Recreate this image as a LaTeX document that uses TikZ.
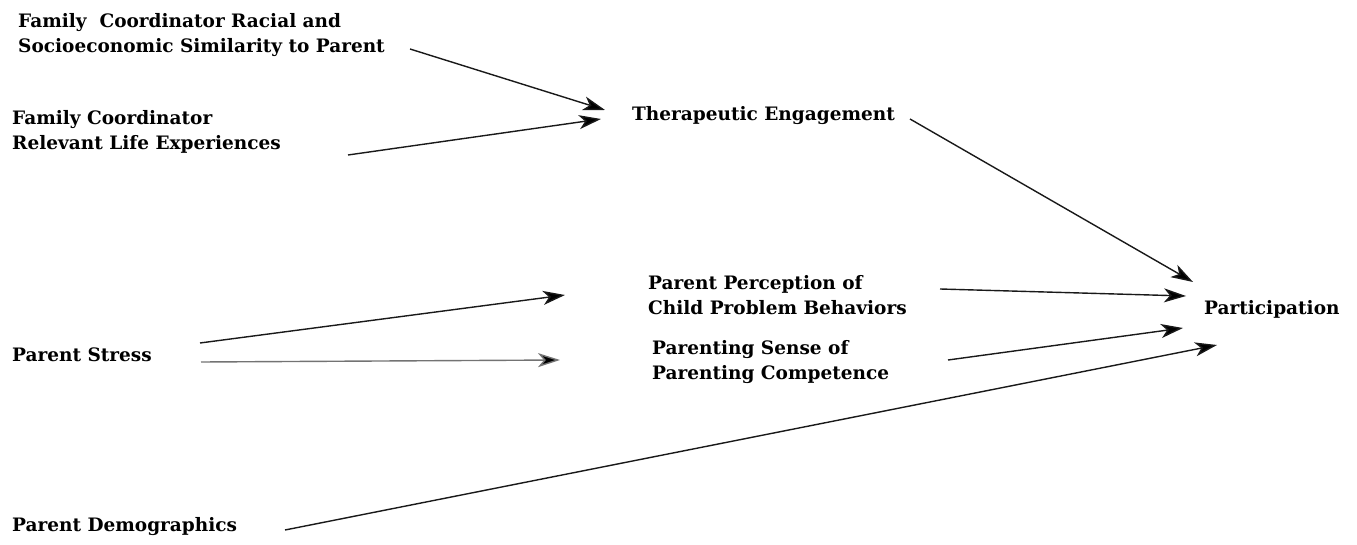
\documentclass[tikz,border=0pt]{standalone}
\usepackage{fontspec}
\setmainfont{DejaVu Serif}
\usetikzlibrary{arrows.meta,calc}
\begin{document}
\begin{tikzpicture}[x=1pt,y=-1pt,
  lbl/.style={anchor=west,inner sep=0pt,align=left,font=\fontsize{18.5}{25}\selectfont\bfseries},
  arr/.style={line width=1.4pt,draw=black!90,-{Stealth[length=22pt,width=14pt,inset=6pt,fill=black]}}]
\useasboundingbox (0,0) rectangle (1357,545);
\node[lbl] (fcr) at (18,35) {Family\ \ Coordinator Racial and\\Socioeconomic Similarity to Parent};
\node[lbl] (fcl) at (12,132) {Family Coordinator\\Relevant Life Experiences};
\node[lbl] (te) at (632,116) {Therapeutic Engagement};
\node[lbl] (ppc) at (648,295) {Parent Perception of\\Child Problem Behaviors};
\node[lbl] (psc) at (652,362) {Parenting Sense of\\Parenting Competence};
\node[lbl] (part) at (1204,309) {Participation};
\node[lbl] (ps) at (12,355) {Parent Stress};
\node[lbl] (pd) at (12,527) {Parent Demographics};
\draw[arr] ($(fcr.west)+(392,14)$) -- ($(te.west)+(-27,-6)$);
\draw[arr] ($(fcl.west)+(336,23)$) -- ($(te.west)+(-31,3)$);
\draw[arr] ($(te.west)+(278,3)$) -- ($(part.west)+(-11,-27)$);
\draw[arr] ($(ppc.west)+(292,-6)$) -- ($(part.west)+(-18,-13)$);
\draw[arr] ($(psc.west)+(296,-2)$) -- ($(part.west)+(-21,19)$);
\draw[arr] ($(pd.west)+(273,3)$) -- ($(part.west)+(13,36)$);
\draw[arr] ($(ps.west)+(188,-12)$) -- ($(ppc.west)+(-83,0)$);
\draw[arr,draw=black!55] ($(ps.west)+(189,7)$) -- ($(psc.west)+(-92,-2)$);
\end{tikzpicture}
\end{document}
